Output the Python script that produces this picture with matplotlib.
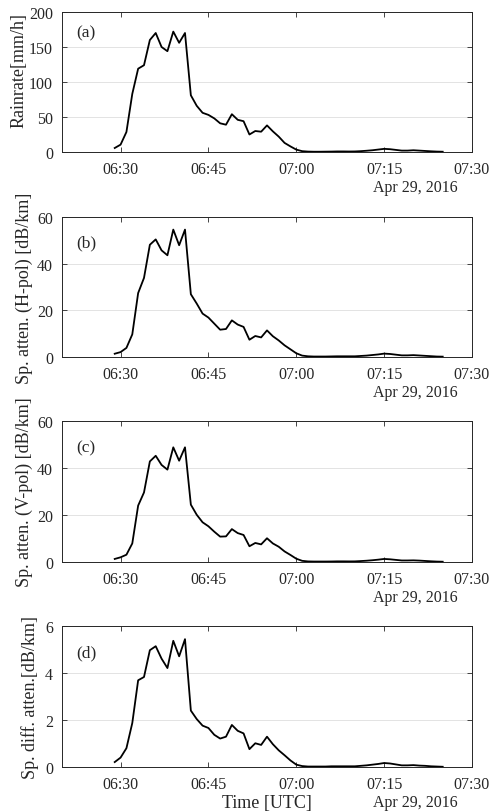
import pandas as pd
import matplotlib.pyplot as plt
import matplotlib.dates as mdates


# Time axis: one sample per minute, 06:29 to 07:25 UTC
times = pd.date_range("2016-04-29 06:29", "2016-04-29 07:25", freq="1min")

# Rain rate [mm/h]
rainrate = [5.7, 10.5, 28.6, 83, 119, 124, 160, 170, 150, 144, 172, 156, 170,
            81, 66, 56, 53, 48, 41, 39, 54, 46, 44, 25, 30, 29, 38, 29.5, 22,
            13, 8, 3.4, 1.2, 0.6, 0.4, 0.4, 0.5, 0.6, 0.8, 0.8, 0.7, 0.8, 1.2,
            1.8, 2.5, 3.5, 4.5, 4.0, 3.0, 2.0, 2.0, 2.5, 2.0, 1.5, 1.0, 0.6, 0.4]

# Specific attenuation H-pol [dB/km]
atten_h = [1.4, 2.1, 3.9, 9.7, 27.4, 33.9, 48.1, 50.4, 45.7, 43.6, 54.6, 47.9,
           54.6, 26.9, 22.9, 18.6, 16.9, 14.3, 11.7, 12.0, 15.7, 13.9, 12.9,
           7.4, 9.0, 8.4, 11.4, 8.9, 7.1, 5.0, 3.3, 1.6, 0.6, 0.3, 0.2, 0.2,
           0.2, 0.25, 0.3, 0.3, 0.3, 0.3, 0.45, 0.6, 0.85, 1.1, 1.45, 1.3, 1.0,
           0.7, 0.7, 0.8, 0.65, 0.5, 0.35, 0.2, 0.15]

# Specific attenuation V-pol [dB/km]
atten_v = [1.3, 2.0, 3.1, 7.9, 24.0, 29.6, 42.8, 45.2, 41.3, 39.3, 48.8, 43.1,
           48.8, 24.4, 20.1, 16.9, 15.2, 12.9, 10.8, 10.9, 14.0, 12.3, 11.5,
           6.7, 8.1, 7.5, 10.1, 7.9, 6.5, 4.5, 3.0, 1.4, 0.5, 0.25, 0.2, 0.2,
           0.2, 0.22, 0.27, 0.27, 0.25, 0.27, 0.4, 0.55, 0.75, 1.0, 1.3, 1.15,
           0.9, 0.65, 0.65, 0.7, 0.6, 0.45, 0.3, 0.18, 0.12]

# Specific differential attenuation [dB/km]
atten_diff = [0.21, 0.4, 0.8, 1.87, 3.69, 3.83, 4.97, 5.14, 4.61, 4.21, 5.37,
              4.71, 5.44, 2.4, 2.04, 1.76, 1.66, 1.37, 1.21, 1.29, 1.79, 1.54,
              1.43, 0.76, 1.01, 0.94, 1.29, 0.97, 0.71, 0.5, 0.28, 0.1, 0.04,
              0.02, 0.02, 0.02, 0.02, 0.03, 0.03, 0.03, 0.03, 0.03, 0.05, 0.07,
              0.1, 0.13, 0.17, 0.15, 0.11, 0.07, 0.07, 0.08, 0.06, 0.05, 0.03,
              0.02, 0.01]

panel_labels = ["(a)", "(b)", "(c)", "(d)"]
y_labels = ["Rainrate[mm/h]",
            "Sp. atten. (H-pol) [dB/km]",
            "Sp. atten. (V-pol) [dB/km]",
            "Sp. diff. atten.[dB/km]"]
y_limits = [200, 60, 60, 6]
y_ticks = [[0, 50, 100, 150, 200], [0, 20, 40, 60], [0, 20, 40, 60], [0, 2, 4, 6]]
x_ticks = pd.to_datetime(["2016-04-29 06:30", "2016-04-29 06:45",
                          "2016-04-29 07:00", "2016-04-29 07:15",
                          "2016-04-29 07:30"])
x_start = pd.Timestamp("2016-04-29 06:20")
x_end = pd.Timestamp("2016-04-29 07:30")
date_text = "Apr 29, 2016"


def main():

    plt.rcParams["font.family"] = ["Liberation Serif", "DejaVu Serif"]
    plt.rcParams["mathtext.fontset"] = "stix"

    fig = plt.figure(figsize=(4.91, 8.12), dpi=100)

    # axes positions in pixels (top, bottom), measured on the reference
    W, H = 491.0, 812.0
    left, right = 62, 472
    boxes = [(13, 153), (218, 358), (422, 563), (627, 768)]
    letter_y = [0.857, 0.818, 0.816, 0.816]
    ylabel_y = [0.59, 0.5, 0.5, 0.5]

    series = [rainrate, atten_h, atten_v, atten_diff]
    dark = "#262626"

    for i, values in enumerate(series):
        top, bottom = boxes[i]
        ax = fig.add_axes([left / W, 1 - bottom / H,
                           (right - left) / W, (bottom - top) / H])

        ax.plot(times, values, color="black", linewidth=1.3)

        ax.set_xlim(x_start, x_end)
        ax.set_ylim(0, y_limits[i])
        ax.set_xticks(x_ticks)
        ax.set_yticks(y_ticks[i])
        ax.xaxis.set_major_formatter(mdates.DateFormatter("%H:%M"))

        # MATLAB-like box with inward ticks on all sides
        ax.tick_params(direction="in", length=3.5, width=0.6, color=dark,
                       labelsize=11.5, pad=6.5, top=True, right=True,
                       labelcolor=dark)
        for sp in ax.spines.values():
            sp.set_color(dark)
            sp.set_linewidth(0.7)

        ax.yaxis.grid(True, color="#e3e3e3", linewidth=0.7)
        ax.set_axisbelow(True)

        ax.set_ylabel(y_labels[i], fontsize=13, color=dark, labelpad=4)
        ax.yaxis.set_label_coords(-0.085 if i == 0 else -0.07, ylabel_y[i])
        if i == 3:
            ax.yaxis.set_label_coords(-0.055, ylabel_y[i])

        ax.text(0.034, letter_y[i], panel_labels[i], transform=ax.transAxes,
                fontsize=12.5, va="center", ha="left", color=dark)

        # date under the time axis
        ax.annotate(date_text, xy=(0.861, 0), xycoords="axes fraction",
                    xytext=(0, -25.5), textcoords="offset points",
                    ha="center", va="center", fontsize=11.5, color=dark)

        if i == 3:
            ax.annotate("Time [UTC]", xy=(0.5, 0), xycoords="axes fraction",
                        xytext=(0, -25.5), textcoords="offset points",
                        ha="center", va="center", fontsize=13, color=dark)

    plt.savefig("out.png", dpi=100)


if __name__ == "__main__":
    main()
